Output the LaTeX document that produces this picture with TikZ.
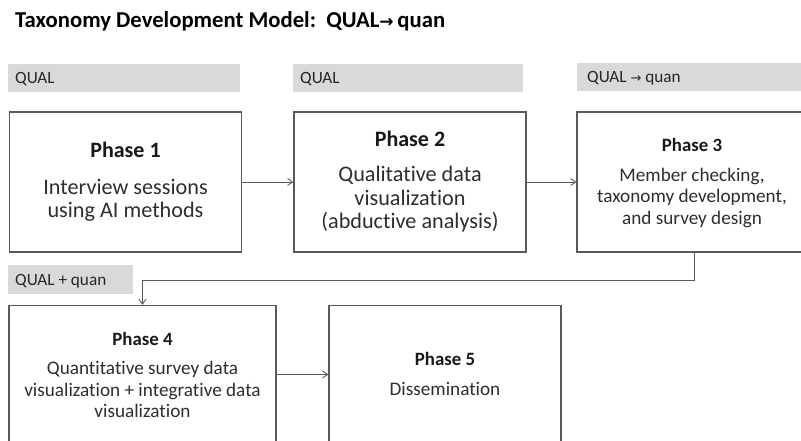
\documentclass[tikz,border=0pt]{standalone}
\usepackage{fontspec}
\setmainfont{Carlito}[Ligatures={NoCommon}]
\usetikzlibrary{arrows.meta}
\definecolor{barfill}{HTML}{D9D9D9}
\definecolor{edge}{HTML}{5A5A5A}
\definecolor{bodytext}{HTML}{2E2E2E}
\tikzset{
  phasebox/.style={draw=edge, line width=1.3pt, fill=white, inner sep=0pt},
  tagbar/.style={fill=barfill, inner sep=0pt},
  tagtext/.style={anchor=base west, inner sep=0pt, font=\fontsize{17.2}{20}\selectfont, text=black!85},
  headbig/.style={anchor=base, inner sep=0pt, font=\fontsize{22}{26}\selectfont\bfseries, text=black!90},
  bodybig/.style={anchor=base, inner sep=0pt, font=\fontsize{22.2}{26}\selectfont, text=bodytext},
  headsmall/.style={anchor=base, inner sep=0pt, font=\fontsize{18.8}{22}\selectfont\bfseries, text=black!90},
  bodysmall/.style={anchor=base, inner sep=0pt, font=\fontsize{19.2}{22}\selectfont, text=bodytext},
  flow/.style={draw=edge, line width=0.9pt, -{Straight Barb[length=5pt,width=7pt]}}
}
\begin{document}
\begin{tikzpicture}[x=1pt,y=-1pt]
\useasboundingbox (0,0) rectangle (801,441);
\clip (0,0) rectangle (801,441);

% title
\node[anchor=base west, inner sep=0pt, font=\fontsize{22.7}{26}\selectfont\bfseries] (title) at (15,28)
  {Taxonomy Development Model:\ \ QUAL{\fontspec{DejaVu Sans}\fontsize{17}{20}\selectfont\bfseries→}\,quan};

% method tags
\node[tagbar, minimum width=232pt, minimum height=28pt, anchor=north west] (tag1) at (8,64) {};
\node[tagtext] (tag1t) at (15,84) {QUAL};
\node[tagbar, minimum width=230pt, minimum height=28pt, anchor=north west] (tag2) at (293,64) {};
\node[tagtext] (tag2t) at (300,84) {QUAL};
\node[tagbar, minimum width=235pt, minimum height=28pt, anchor=north west] (tag3) at (577,63) {};
\node[tagtext] (tag3t) at (587,83) {QUAL {\fontspec{DejaVu Sans}\fontsize{13}{15}\selectfont→} quan};
\node[tagbar, minimum width=125pt, minimum height=29pt, anchor=north west] (tag4) at (8,265) {};
\node[tagtext] (tag4t) at (15,285) {QUAL + quan};

% phase boxes
\node[phasebox, minimum width=232pt, minimum height=140pt] (b1) at (125.5,182) {};
\node[phasebox, minimum width=232pt, minimum height=140pt] (b2) at (410,182) {};
\node[phasebox, minimum width=234pt, minimum height=140pt] (b3) at (694,182) {};
\node[phasebox, minimum width=267pt, minimum height=138pt] (b4) at (142.5,374.5) {};
\node[phasebox, minimum width=232pt, minimum height=138pt] (b5) at (445,374.5) {};

% phase 1
\node[headbig] (h1) at (125.5,158) {Phase 1};
\node[bodybig] (p1a) at (125.5,194) {Interview sessions};
\node[bodybig] (p1b) at (125.5,217) {using AI methods};
% phase 2
\node[headbig] (h2) at (410,147) {Phase 2};
\node[bodybig] (p2a) at (410,182) {Qualitative data};
\node[bodybig] (p2b) at (410,205) {visualization};
\node[bodybig] (p2c) at (410,228) {(abductive analysis)};
% phase 3
\node[headsmall] (h3) at (692,152) {Phase 3};
\node[bodysmall] (p3a) at (692,182) {Member checking,};
\node[bodysmall] (p3b) at (692,203) {taxonomy development,};
\node[bodysmall] (p3c) at (692,224) {and survey design};
% phase 4
\node[headsmall] (h4) at (142.5,345) {Phase 4};
\node[bodysmall] (p4a) at (142.5,374) {Quantitative survey data};
\node[bodysmall] (p4b) at (142.5,396) {visualization + integrative data};
\node[bodysmall] (p4c) at (142.5,417) {visualization};
% phase 5
\node[headsmall] (h5) at (445,365) {Phase 5};
\node[bodysmall] (p5a) at (445,395) {Dissemination};

% connectors
\draw[flow] (b1) -- (b2);
\draw[flow] (b2) -- (b3);
\draw[flow] (b3.south) -- ++(0,28) -| (b4.north);
\draw[flow] (b4) -- (b5);
\end{tikzpicture}
\end{document}
